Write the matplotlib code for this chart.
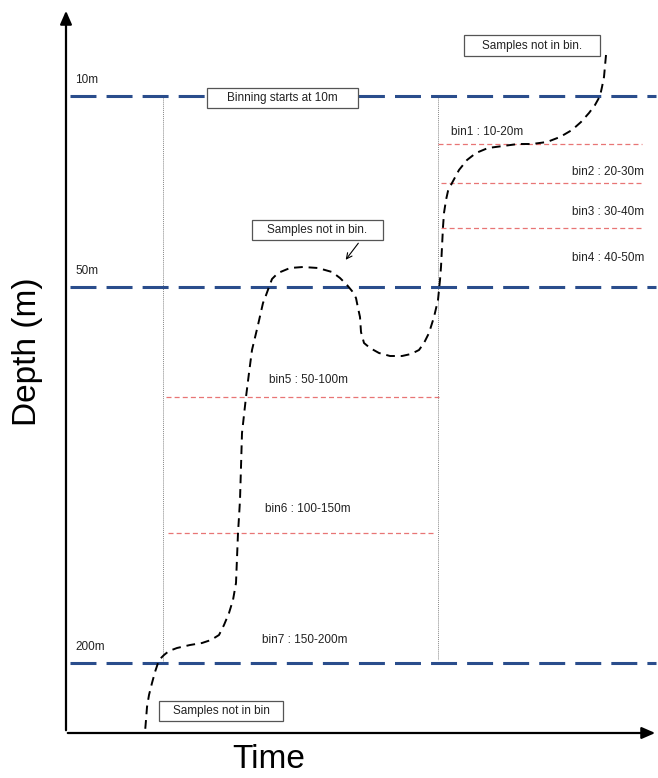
import matplotlib.pyplot as plt
from matplotlib.patches import Rectangle

plt.rcParams['font.family'] = ['Liberation Sans Narrow', 'Liberation Sans', 'DejaVu Sans']

# schematic coordinates (image pixels, y grows downward)
ref_labels = ['10m', '50m', '200m']
ref_y = [96, 287, 663]

bin_labels = ['bin1 : 10-20m', 'bin2 : 20-30m', 'bin3 : 30-40m', 'bin4 : 40-50m',
              'bin5 : 50-100m', 'bin6 : 100-150m', 'bin7 : 150-200m']
bin_line_y = [144, 183, 228, None, 397, 533, None]
bin_line_x0 = [438, 441, 441, None, 166, 168, None]
bin_line_x1 = [642, 644, 642, None, 439, 436, None]
bin_text_x = [451, 644, 644, 644, 269, 265, 262]
bin_text_y = [132, 172, 212, 258, 380, 509, 640]
bin_text_ha = ['left', 'right', 'right', 'right', 'left', 'left', 'left']

cast_x = [163, 438]
cast_top = [96, 96]
cast_bot = [662, 660]

# sample profile (dashed black curve)
prof_t = [606, 605, 604, 602, 600, 595, 589, 581, 572, 560, 547, 532, 518, 503, 488,
          476, 467, 459, 452, 448, 446, 444, 443, 442, 441, 440, 438, 434, 429, 424,
          419, 411, 402, 390, 379, 370, 364, 361, 360, 358, 356, 352, 347, 340, 332,
          318, 303, 290, 278, 272, 269, 265, 263, 258, 252, 249, 246, 244, 242, 241,
          240, 239, 238, 237, 236, 233, 229, 224, 219, 211, 202, 190, 177, 169, 164,
          160, 158, 155, 152, 149, 147, 146, 145]
prof_d = [55, 66, 77, 87, 96, 105, 113, 122, 130, 137, 142, 144, 144, 146, 148,
          153, 160, 170, 183, 191, 200, 213, 227, 247, 267, 280, 300, 317, 333, 343,
          350, 354, 356, 356, 353, 348, 343, 332, 317, 308, 298, 291, 285, 278, 272,
          268, 267, 268, 273, 279, 287, 298, 303, 325, 350, 373, 397, 415, 433, 467,
          500, 517, 533, 558, 583, 600, 613, 625, 635, 640, 643, 645, 648, 651, 655,
          659, 663, 672, 683, 695, 707, 720, 732]

box_texts = ['Samples not in bin.', 'Binning starts at 10m', 'Samples not in bin.', 'Samples not in bin']
box_x0 = [464, 207, 252, 159]
box_x1 = [600, 358, 383, 283]
box_y0 = [35, 88, 220, 701]
box_y1 = [56, 108, 240, 721]

fig = plt.figure(figsize=(6.58, 7.78), dpi=100)
ax = fig.add_axes([0, 0, 1, 1])
ax.set_xlim(0, 658)
ax.set_ylim(778, 0)
ax.axis('off')

# vertical cast lines
for x, t, b in zip(cast_x, cast_top, cast_bot):
    ax.plot([x, x], [t, b], color='#888888', lw=0.7, ls=(0, (1, 1)))

# blue reference depths
for lab, y in zip(ref_labels, ref_y):
    ax.plot([70, 656], [y, y], color='#2a4d8c', lw=2.2, dashes=(8.5, 3.3), zorder=2)
    ax.text(75, y - 16, lab, fontsize=8.5, ha='left', va='center', color='#222222')

# red bin boundaries and labels
for i, lab in enumerate(bin_labels):
    if bin_line_y[i] is not None:
        ax.plot([bin_line_x0[i], bin_line_x1[i]], [bin_line_y[i]] * 2,
                color='#e87575', lw=0.9, dashes=(4, 2.5), zorder=2)
    ax.text(bin_text_x[i], bin_text_y[i], lab, fontsize=8.5, ha=bin_text_ha[i],
            va='center', color='#222222')

# profile
ax.plot(prof_t, prof_d, color='black', lw=1.4, dashes=(4.5, 3), zorder=3)

# boxes
for s, x0, x1, y0, y1 in zip(box_texts, box_x0, box_x1, box_y0, box_y1):
    ax.add_patch(Rectangle((x0, y0), x1 - x0, y1 - y0, fc='white', ec='#555555',
                           lw=0.9, zorder=4))
    ax.text((x0 + x1) / 2, (y0 + y1) / 2, s, fontsize=8.5, ha='center', va='center',
            color='#222222', zorder=5)

ax.annotate('', xy=(344, 262), xytext=(360, 241),
            arrowprops=dict(arrowstyle='->', color='black', lw=0.8))

# axes arrows
ax.annotate('', xy=(66, 8), xytext=(66, 733),
            arrowprops=dict(arrowstyle='-|>,head_length=0.8,head_width=0.35', color='black', lw=1.6))
ax.annotate('', xy=(658, 733), xytext=(65, 733),
            arrowprops=dict(arrowstyle='-|>,head_length=0.8,head_width=0.35', color='black', lw=1.6))

ax.text(269, 760, 'Time', fontsize=24, ha='center', va='center',
        family=['Liberation Sans', 'DejaVu Sans'])
ax.text(28, 352, 'Depth (m)', fontsize=24, ha='center', va='center', rotation=90,
        family=['Liberation Sans', 'DejaVu Sans'])

fig.savefig('out.png', dpi=100)
